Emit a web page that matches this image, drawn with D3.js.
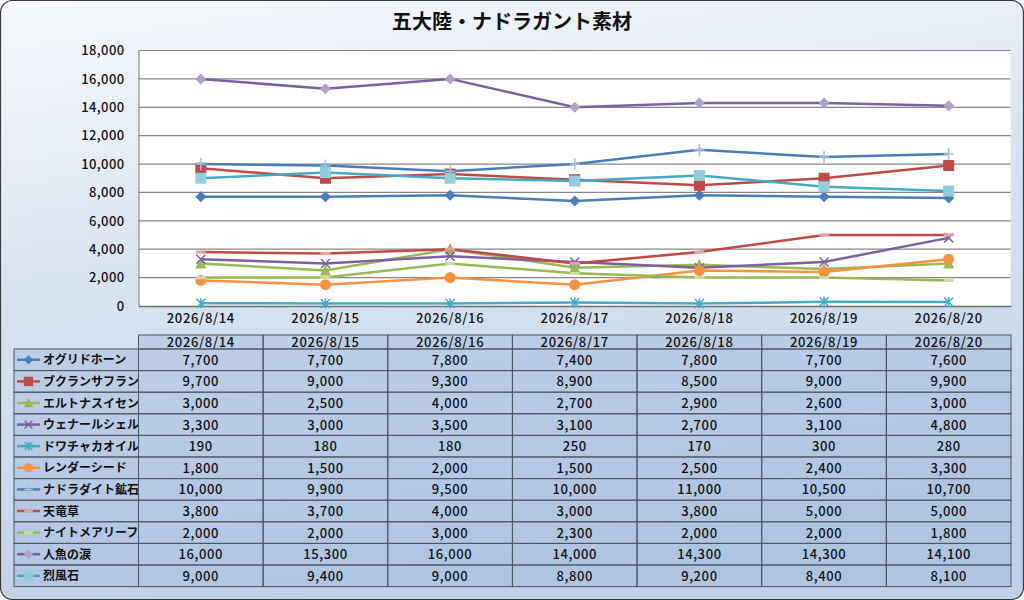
<!DOCTYPE html>
<html><head><meta charset="utf-8">
<script src="https://cdn.jsdelivr.net/npm/d3@7"></script>
<style>
html,body{margin:0;padding:0;background:#fff;}
svg{display:block;font-family:"Noto Sans CJK JP","Noto Sans",sans-serif;}
</style></head>
<body>
<svg id="c" width="1024" height="600"></svg>
<script>
const title = "五大陸・ナドラガント素材";
const categories = ["2026/8/14","2026/8/15","2026/8/16","2026/8/17","2026/8/18","2026/8/19","2026/8/20"];
const seriesNames = ["オグリドホーン","ブクランサフラン","エルトナスイセン","ウェナールシェル","ドワチャカオイル","レンダーシード","ナドラダイト鉱石","天竜草","ナイトメアリーフ","人魚の涙","烈風石"];
const s1 = [7700,7700,7800,7400,7800,7700,7600];
const s2 = [9700,9000,9300,8900,8500,9000,9900];
const s3 = [3000,2500,4000,2700,2900,2600,3000];
const s4 = [3300,3000,3500,3100,2700,3100,4800];
const s5 = [190,180,180,250,170,300,280];
const s6 = [1800,1500,2000,1500,2500,2400,3300];
const s7 = [10000,9900,9500,10000,11000,10500,10700];
const s8 = [3800,3700,4000,3000,3800,5000,5000];
const s9 = [2000,2000,3000,2300,2000,2000,1800];
const s10 = [16000,15300,16000,14000,14300,14300,14100];
const s11 = [9000,9400,9000,8800,9200,8400,8100];
const yTicks = [0,2000,4000,6000,8000,10000,12000,14000,16000,18000];

const values = [s1,s2,s3,s4,s5,s6,s7,s8,s9,s10,s11];
const styles = [
  {line:"#4a7ebb", marker:"diamond", mfill:"#4a7ebb"},
  {line:"#be4b48", marker:"square", mfill:"#be4b48"},
  {line:"#98b954", marker:"triangle", mfill:"#98b954"},
  {line:"#7d60a0", marker:"x", mfill:"#7d60a0"},
  {line:"#46aac5", marker:"star", mfill:"#46aac5"},
  {line:"#f69240", marker:"circle", mfill:"#f69240"},
  {line:"#4a7ebb", marker:"plus", mfill:"#a9bfdf"},
  {line:"#be4b48", marker:"dash", mfill:"#e4a3a2"},
  {line:"#98b954", marker:"dash", mfill:"#c9dfa6"},
  {line:"#7d60a0", marker:"diamond", mfill:"#b09fc8"},
  {line:"#46aac5", marker:"square", mfill:"#93cddd"}
];

const svg = d3.select("#c");
const W = 1024, H = 600;
const defs = svg.append("defs");
const bg = defs.append("linearGradient").attr("id","bg").attr("x1",0).attr("y1",0).attr("x2",0.25).attr("y2",1);
bg.append("stop").attr("offset","0%").attr("stop-color","#f7f9fc");
bg.append("stop").attr("offset","45%").attr("stop-color","#d9e4f1");
bg.append("stop").attr("offset","100%").attr("stop-color","#bfd1e8");
svg.append("rect").attr("x",0.5).attr("y",0.5).attr("width",W-1).attr("height",H-1)
  .attr("rx",12).attr("fill","url(#bg)").attr("stroke","#3a3a3a").attr("stroke-width",1.2);

svg.append("text").attr("x",512).attr("y",29).attr("text-anchor","middle")
  .attr("font-size",20).attr("font-weight",700).attr("fill","#111").text(title);

const L = 138.5, R = 1011, T = 50.5, B = 306;
const x = d3.scaleBand().domain(categories).range([L,R]);
const y = d3.scaleLinear().domain([0,18000]).range([B,T]);

svg.append("rect").attr("x",L).attr("y",T).attr("width",R-L).attr("height",B-T).attr("fill","#fff");

// gridlines
svg.append("g").selectAll("line").data(yTicks.filter(d=>d>0)).join("line")
  .attr("x1",L).attr("x2",R).attr("y1",d=>y(d)).attr("y2",d=>y(d))
  .attr("stroke","#868686").attr("stroke-width",1.2);
svg.append("line").attr("x1",R).attr("x2",R).attr("y1",T).attr("y2",B).attr("stroke","#e0e6ee");

// y axis
const yAxis = svg.append("g").attr("transform",`translate(${L},0)`)
  .call(d3.axisLeft(y).tickValues(yTicks).tickFormat(d3.format(",")).tickSize(0).tickPadding(14));
yAxis.select(".domain").attr("stroke","#868686").attr("stroke-width",1.2);
yAxis.selectAll("text").attr("font-size",13).attr("fill","#111").attr("font-weight",500)
  .attr("letter-spacing",0.4).attr("font-family","\"Noto Sans CJK JP\",sans-serif");

// x axis
const xAxis = svg.append("g").attr("transform",`translate(0,${B})`)
  .call(d3.axisBottom(x).tickSize(0).tickPadding(8));
xAxis.select(".domain").attr("stroke","#6e6e6e").attr("stroke-width",1.5);
xAxis.selectAll("text").attr("font-size",13).attr("fill","#111").attr("font-weight",500)
  .attr("letter-spacing",0.7).attr("font-family","\"Noto Sans CJK JP\",sans-serif");

const cx = d => x(d) + x.bandwidth()/2;

function drawMarker(g, type, fill, px, py, s){
  s = s || 1;
  if(type==="diamond"){
    g.append("path").attr("d",`M${px},${py-5.5*s}L${px+5.5*s},${py}L${px},${py+5.5*s}L${px-5.5*s},${py}Z`).attr("fill",fill);
  } else if(type==="square"){
    g.append("rect").attr("x",px-5.5*s).attr("y",py-5.5*s).attr("width",11*s).attr("height",11*s).attr("fill",fill);
  } else if(type==="triangle"){
    g.append("path").attr("d",`M${px},${py-6*s}L${px+5.5*s},${py+5*s}L${px-5.5*s},${py+5*s}Z`).attr("fill",fill);
  } else if(type==="circle"){
    g.append("circle").attr("cx",px).attr("cy",py).attr("r",5.5*s).attr("fill",fill);
  } else if(type==="x"){
    g.append("path").attr("d",`M${px-4.5*s},${py-4.5*s}L${px+4.5*s},${py+4.5*s}M${px+4.5*s},${py-4.5*s}L${px-4.5*s},${py+4.5*s}`).attr("stroke",fill).attr("stroke-width",1.5);
  } else if(type==="star"){
    g.append("path").attr("d",`M${px-4.5*s},${py-4.5*s}L${px+4.5*s},${py+4.5*s}M${px+4.5*s},${py-4.5*s}L${px-4.5*s},${py+4.5*s}M${px},${py-5*s}L${px},${py+5*s}`).attr("stroke",fill).attr("stroke-width",1.5);
  } else if(type==="plus"){
    g.append("path").attr("d",`M${px-5*s},${py}L${px+5*s},${py}M${px},${py-6*s}L${px},${py+6*s}`).attr("stroke",fill).attr("stroke-width",1.5);
  } else if(type==="dash"){
    g.append("path").attr("d",`M${px-5*s},${py}L${px+5*s},${py}`).attr("stroke",fill).attr("stroke-width",3);
  }
}

const line = d3.line().x(d=>cx(d.c)).y(d=>y(d.v));
values.forEach((vals,i)=>{
  const st = styles[i];
  const pts = vals.map((v,j)=>({c:categories[j],v}));
  const g = svg.append("g");
  g.append("path").attr("d",line(pts)).attr("fill","none").attr("stroke",st.line).attr("stroke-width",2.5);
  pts.forEach(p=>drawMarker(g, st.marker, st.mfill, cx(p.c), y(p.v)));
});

// data table
const tTop = 335, hdrH = 14, rowH = 21.6;
const legL = 14;
const tb = svg.append("g");
const cellFill = "rgba(140,172,215,0.32)";
categories.forEach(c=>{
  tb.append("rect").attr("x",x(c)).attr("y",tTop).attr("width",x.bandwidth()).attr("height",hdrH)
    .attr("fill",cellFill).attr("stroke","#4d5560").attr("stroke-width",1);
  tb.append("text").attr("x",cx(c)).attr("y",tTop+12).attr("text-anchor","middle")
    .attr("font-size",13).attr("font-weight",500).attr("letter-spacing",0.7).attr("fill","#111").text(c);
});
const fmt = d3.format(",");
seriesNames.forEach((name,i)=>{
  const ry = tTop + hdrH + i*rowH;
  tb.append("rect").attr("x",legL).attr("y",ry).attr("width",L-legL).attr("height",rowH)
    .attr("fill",cellFill).attr("stroke","#4d5560").attr("stroke-width",1);
  const st = styles[i];
  const my = ry + rowH/2;
  const lg = tb.append("g");
  lg.append("line").attr("x1",legL+3).attr("x2",legL+26).attr("y1",my).attr("y2",my).attr("stroke",st.line).attr("stroke-width",2.5);
  drawMarker(lg, st.marker, st.mfill, legL+14.5, my, 0.85);
  tb.append("text").attr("x",legL+29).attr("y",my+4.5).attr("font-size",12).attr("font-weight",700)
    .attr("fill","#111").text(name);
  categories.forEach((c,j)=>{
    tb.append("rect").attr("x",x(c)).attr("y",ry).attr("width",x.bandwidth()).attr("height",rowH)
      .attr("fill",cellFill).attr("stroke","#4d5560").attr("stroke-width",1);
    tb.append("text").attr("x",cx(c)).attr("y",my+5).attr("text-anchor","middle")
      .attr("font-size",13).attr("font-weight",500).attr("letter-spacing",0.6).attr("fill","#111").text(fmt(values[i][j]));
  });
});
</script>
</body></html>
